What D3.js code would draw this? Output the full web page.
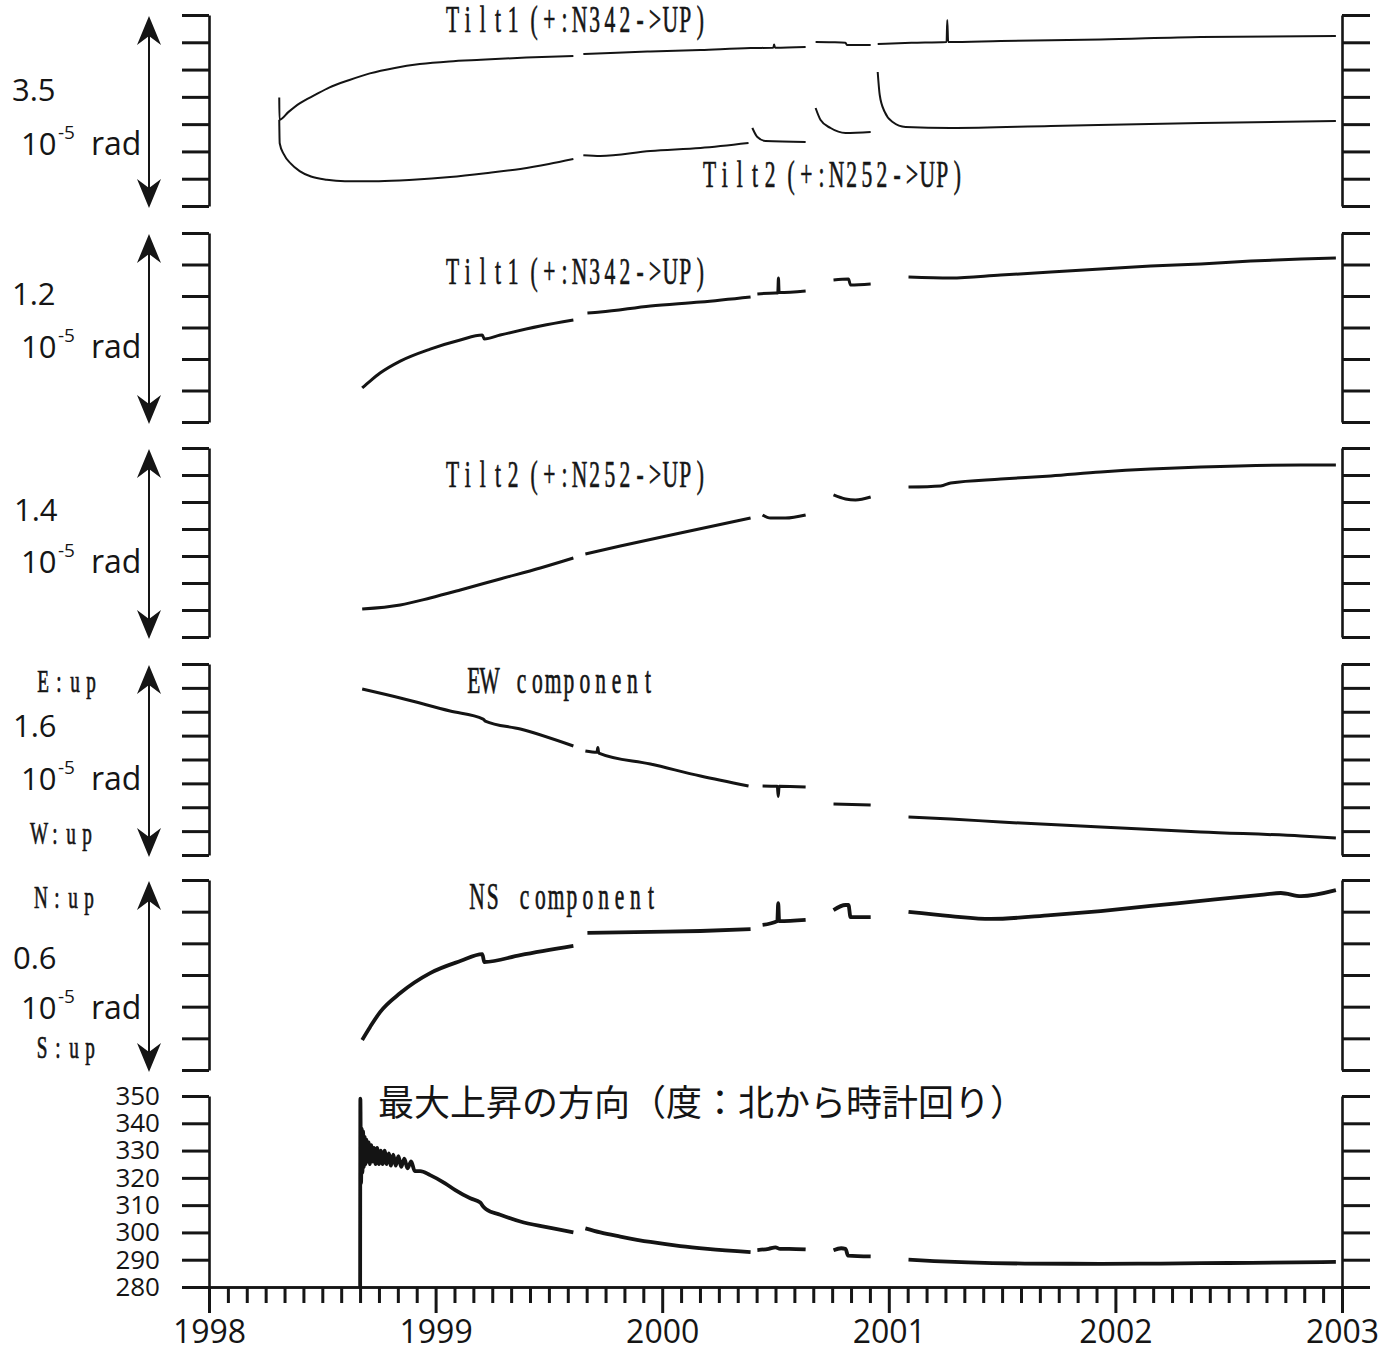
<!DOCTYPE html>
<html>
<head>
<meta charset="utf-8">
<script src="https://cdn.jsdelivr.net/npm/d3@7"></script>
<style>
  body { margin: 0; background: #fff; }
  svg { display: block; }
  .num { font-family: "Open Sans", "Noto Sans", sans-serif; fill: #151515; }
  .serif { font-family: "Liberation Serif", "DejaVu Serif", serif; fill: #151515; stroke: #151515; stroke-width: 0.7px; }
  .axis path, .axis line { stroke: #151515; }
</style>
</head>
<body>
<svg id="chart" width="1400" height="1351"></svg>
<script>
// Time is in decimal years; tilt values in 1e-5 rad (relative), direction in degrees.
// Each series is a list of recording segments separated by data gaps.

const tilt1Long = [
  [[1998.310,1.99],[1998.311,1.58],[1998.35,1.72],[1998.40,1.88],[1998.47,2.04],[1998.53,2.17],[1998.62,2.31],
   [1998.71,2.43],[1998.82,2.53],[1998.93,2.60],[1999.06,2.65],[1999.20,2.68],[1999.40,2.72],[1999.608,2.75]],
  [[1999.652,2.785],[1999.80,2.81],[1999.948,2.831],[2000.169,2.859],[2000.39,2.895],[2000.49,2.90],
   [2000.494,2.96],[2000.498,2.90],[2000.633,2.914]],
  [[2000.677,3.005],[2000.75,3.00],[2000.809,2.99],[2000.815,2.95],[2000.92,2.95]],
  [[2000.951,2.97],[2001.10,2.99],[2001.255,3.005],[2001.258,3.41],[2001.262,3.005],[2001.494,3.024],
   [2001.935,3.05],[2002.377,3.097],[2002.973,3.115]]
];

const tilt2Long = [
  [[1998.310,1.58],[1998.312,1.15],[1998.33,0.95],[1998.36,0.78],[1998.40,0.64],[1998.45,0.54],[1998.52,0.48],
   [1998.60,0.455],[1998.75,0.455],[1998.90,0.48],[1999.064,0.53],[1999.22,0.60],[1999.374,0.68],[1999.50,0.77],[1999.608,0.86]],
  [[1999.652,0.93],[1999.727,0.915],[1999.948,1.008],[2000.169,1.063],[2000.381,1.154]],
  [[2000.398,1.43],[2000.42,1.264],[2000.456,1.191],[2000.633,1.173]],
  [[2000.677,1.796],[2000.699,1.576],[2000.743,1.429],[2000.809,1.338],[2000.92,1.356]],
  [[2000.951,2.456],[2000.96,2.034],[2000.982,1.723],[2001.017,1.539],[2001.074,1.448],[2001.273,1.429],
   [2001.715,1.466],[2002.377,1.521],[2002.973,1.558]]
];

const tilt1 = [
  [[1998.676,0.216],[1998.711,0.26],[1998.755,0.311],[1998.844,0.387],[1998.976,0.463],[1999.109,0.521],
   [1999.206,0.552],[1999.215,0.527],[1999.285,0.552],[1999.462,0.61],[1999.608,0.648]],
  [[1999.67,0.692],[1999.727,0.698],[1999.948,0.737],[2000.169,0.762],[2000.39,0.794]],
  [[2000.42,0.813],[2000.5,0.819],[2000.51,0.819],[2000.513,0.914],[2000.516,0.822],[2000.633,0.832]],
  [[2000.756,0.902],[2000.822,0.908],[2000.831,0.87],[2000.92,0.876]],
  [[2001.087,0.921],[2001.273,0.914],[2001.494,0.933],[2001.715,0.952],[2001.935,0.971],[2002.156,0.99],
   [2002.377,1.003],[2002.598,1.022],[2002.819,1.035],[2002.973,1.041]]
];

const tilt2 = [
  [[1998.676,0.207],[1998.844,0.237],[1998.976,0.289],[1999.109,0.348],[1999.285,0.43],[1999.462,0.511],[1999.608,0.585]],
  [[1999.661,0.615],[1999.815,0.674],[2000.08,0.77],[2000.39,0.881]],
  [[2000.443,0.904],[2000.478,0.881],[2000.544,0.881],[2000.633,0.904]],
  [[2000.756,1.052],[2000.809,1.022],[2000.853,1.015],[2000.92,1.037]],
  [[2001.087,1.111],[2001.229,1.119],[2001.273,1.141],[2001.494,1.17],[2001.715,1.193],[2001.935,1.222],
   [2002.156,1.244],[2002.377,1.259],[2002.819,1.274],[2002.973,1.274]]
];

const ewComponent = [
  [[1998.676,1.39],[1998.844,1.315],[1999.064,1.206],[1999.21,1.139],[1999.219,1.122],[1999.374,1.055],[1999.608,0.913]],
  [[1999.661,0.871],[1999.712,0.86],[1999.716,0.90],[1999.72,0.854],[1999.948,0.762],[2000.169,0.662],[2000.381,0.578]],
  [[2000.443,0.578],[2000.508,0.575],[2000.512,0.49],[2000.516,0.575],[2000.633,0.57]],
  [[2000.756,0.427],[2000.92,0.419]],
  [[2001.087,0.318],[2001.273,0.302],[2001.494,0.276],[2001.935,0.235],[2002.377,0.193],[2002.819,0.159],[2002.973,0.142]]
];

const nsComponent = [
  [[1998.676,0.095],[1998.711,0.136],[1998.755,0.183],[1998.844,0.243],[1998.976,0.306],[1999.109,0.344],
   [1999.206,0.366],[1999.215,0.341],[1999.374,0.363],[1999.608,0.392]],
  [[1999.67,0.433],[1999.948,0.436],[2000.169,0.439],[2000.39,0.445]],
  [[2000.443,0.458],[2000.508,0.47],[2000.512,0.527],[2000.516,0.47],[2000.633,0.474]],
  [[2000.756,0.505],[2000.809,0.521],[2000.822,0.521],[2000.831,0.483],[2000.92,0.483]],
  [[2001.087,0.499],[2001.273,0.486],[2001.45,0.477],[2001.715,0.489],[2001.935,0.502],[2002.156,0.518],
   [2002.377,0.534],[2002.642,0.553],[2002.73,0.559],[2002.819,0.549],[2002.973,0.568]]
];

const directionDeg = [
  [[1998.667,280],[1998.668,349],[1998.671,318],[1998.674,338],[1998.677,322],[1998.680,337],[1998.683,324],
   [1998.687,335],[1998.691,325],[1998.695,334],[1998.700,326],[1998.705,333],[1998.710,325],[1998.716,332],
   [1998.722,326],[1998.728,331],[1998.735,325],[1998.742,331],[1998.750,325],[1998.758,330],[1998.766,325],
   [1998.775,330],[1998.784,325],[1998.793,329],[1998.803,324.5],[1998.813,328.5],[1998.824,324.5],
   [1998.836,328],[1998.848,324],[1998.862,327],[1998.876,323.5],[1998.892,326],[1998.908,322.5],
   [1998.932,322.5],[1998.976,321],[1999.042,318],[1999.087,315.5],[1999.153,312.5],[1999.197,311],
   [1999.21,309.5],[1999.223,308.5],[1999.285,306.5],[1999.374,304],[1999.484,302],[1999.608,300]],
  [[1999.661,301.5],[1999.727,300],[1999.815,298.5],[1999.948,296.5],[2000.08,295],[2000.2,294],[2000.39,292.8]],
  [[2000.42,293.5],[2000.47,294],[2000.5,294.5],[2000.52,294],[2000.56,294],[2000.633,293.8]],
  [[2000.756,293.5],[2000.79,294.2],[2000.809,294],[2000.82,291.5],[2000.92,291.2]],
  [[2001.087,290],[2001.2,289.5],[2001.35,289],[2001.6,288.6],[2001.935,288.5],[2002.2,288.6],[2002.5,288.8],
   [2002.8,289],[2002.973,289.2]]
];

// Axis / label texts
const yearTicks = [1998, 1999, 2000, 2001, 2002, 2003];
const directionTicks = [280, 290, 300, 310, 320, 330, 340, 350];
const rangeLabels = ["3.5", "1.2", "1.4", "1.6", "0.6"];
const panelTitles = ["Tilt1 (+:N342->UP)", "Tilt1 (+:N342->UP)", "Tilt2 (+:N252->UP)", "EW component", "NS component"];
const tilt2Title = "Tilt2 (+:N252->UP)";
const ewSides = ["E:up", "W:up"];
const nsSides = ["N:up", "S:up"];
const directionTitle = "最大上昇の方向（度：北から時計回り）";

const svg = d3.select("#chart");
const x = d3.scaleLinear().domain([1998, 2003]).range([209, 1342]);

const panels = [
  { top: 15,   bottom: 206,  domain: [0, 3.5], step: 0.5, series: [tilt1Long, tilt2Long], width: 2 },
  { top: 233,  bottom: 422,  domain: [0, 1.2], step: 0.2, series: [tilt1], width: 3 },
  { top: 448,  bottom: 637,  domain: [0, 1.4], step: 0.2, series: [tilt2], width: 3 },
  { top: 664,  bottom: 855,  domain: [0, 1.6], step: 0.2, series: [ewComponent], width: 3 },
  { top: 880,  bottom: 1070, domain: [0, 0.6], step: 0.1, series: [nsComponent], width: 3.8 },
  { top: 1096, bottom: 1287, domain: [280, 350], step: 10, series: [directionDeg], width: 3.8 }
];

function styleAxis(g) {
  g.attr("class", "axis");
  g.select(".domain").attr("stroke-width", 2.6);
  g.selectAll(".tick line").attr("stroke-width", 3);
}

panels.forEach((p, i) => {
  const y = d3.scaleLinear().domain(p.domain).range([p.bottom, p.top]);
  const n = Math.round((p.domain[1] - p.domain[0]) / p.step);
  const ticks = d3.range(n + 1).map(k => p.domain[0] + k * p.step);
  const last = i === panels.length - 1;

  svg.append("g")
    .attr("transform", `translate(${x(1998)},0)`)
    .call(d3.axisLeft(y).tickValues(last ? directionTicks : ticks).tickSize(27).tickSizeOuter(0)
      .tickPadding(22).tickFormat(last ? d3.format("d") : ""))
    .call(styleAxis)
    .call(g => g.selectAll("text").attr("class", "num").attr("font-size", 26).attr("fill", "#151515"));

  svg.append("g")
    .attr("transform", `translate(${x(2003)},0)`)
    .call(d3.axisRight(y).tickValues(ticks).tickSize(28).tickSizeOuter(0).tickFormat(""))
    .call(styleAxis);

  const line = d3.line().x(d => x(d[0])).y(d => y(d[1])).curve(d3.curveMonotoneX);
  p.series.forEach(s => {
    s.forEach(seg => {
      svg.append("path").attr("d", line(seg)).attr("fill", "none")
        .attr("stroke", "#141414").attr("stroke-width", p.width)
        .attr("stroke-linejoin", "round").attr("stroke-linecap", "butt");
    });
  });

  if (!last) {
    // double-headed arrow spanning the panel
    const ax = 149, t = p.top + 1, b = p.bottom + 2;
    svg.append("line").attr("x1", ax).attr("x2", ax).attr("y1", t + 10).attr("y2", b - 10)
      .attr("stroke", "#151515").attr("stroke-width", 2);
    svg.append("path").attr("fill", "#151515")
      .attr("d", `M${ax},${t} L${ax - 12},${t + 29} L${ax},${t + 20} L${ax + 12},${t + 29} Z`);
    svg.append("path").attr("fill", "#151515")
      .attr("d", `M${ax},${b} L${ax - 12},${b - 29} L${ax},${b - 20} L${ax + 12},${b - 29} Z`);
  }
});

// Bottom time axis: monthly minor ticks and yearly major ticks with labels
const months = d3.range(0, 61).map(k => 1998 + k / 12).filter((v, k) => k % 12 !== 0);
svg.append("g").attr("transform", "translate(0,1287)")
  .call(d3.axisBottom(x).tickValues(months).tickSize(16).tickSizeOuter(0).tickFormat(""))
  .call(styleAxis);
svg.append("g").attr("transform", "translate(0,1287)")
  .call(d3.axisBottom(x).tickValues(yearTicks).tickSize(26).tickSizeOuter(0).tickPadding(7).tickFormat(d3.format("d")))
  .call(styleAxis)
  .call(g => g.selectAll("text").attr("class", "num").attr("font-size", 32).attr("fill", "#151515"));

// Left-hand scale labels
const rangeY = [[101, 155], [305, 358], [521, 573], [737, 790], [969, 1019]];
const rangeX = [12, 12, 14, 13, 13];
rangeLabels.forEach((t, i) => {
  svg.append("text").attr("class", "num").attr("x", rangeX[i]).attr("y", rangeY[i][0])
    .attr("font-size", 31).text(t);
  svg.append("text").attr("class", "num").attr("x", 21).attr("y", rangeY[i][1])
    .attr("font-size", 31).text("10");
  svg.append("text").attr("class", "num").attr("x", 58).attr("y", rangeY[i][1] - 16)
    .attr("font-size", 19).text("-5");
  svg.append("text").attr("class", "num").attr("x", 91).attr("y", rangeY[i][1])
    .attr("font-size", 32).text("rad");
});

// Fixed-pitch, narrow serif labels: each character centred in its own cell;
// a space takes `gap` of a cell.
function pitchText(str, x0, baseline, width, size, squeeze, gap) {
  const chars = Array.from(str);
  const units = chars.reduce((s, c) => s + (c === " " ? gap : 1), 0);
  const cell = width / units;
  let pos = 0;
  const xs = chars.map(c => {
    const w = (c === " " ? gap : 1) * cell;
    const cx = pos + w / 2;
    pos += w;
    return (cx / squeeze).toFixed(2);
  });
  svg.append("g").attr("transform", `translate(${x0},${baseline}) scale(${squeeze},1)`)
    .append("text").attr("class", "serif").attr("font-size", size).attr("text-anchor", "middle")
    .attr("x", xs.join(" ")).attr("y", 0).text(str);
}

// Direction labels beside the EW / NS panels
[[ewSides[0], 35, 692, 64], [ewSides[1], 31, 844, 64],
 [nsSides[0], 33, 908, 64], [nsSides[1], 34, 1058, 64]]
  .forEach(([t, tx, ty, w]) => pitchText(t, tx, ty, w, 32, 0.6, 1));

// Panel titles
const titlePos = [[445, 32, 263], [445, 284, 263], [445, 487, 263], [466, 693, 190], [469, 909, 190]];
panelTitles.forEach((t, i) =>
  pitchText(t, titlePos[i][0], titlePos[i][1], titlePos[i][2], 37, 0.58, i < 3 ? 0.4 : 1));
pitchText(tilt2Title, 702, 187, 263, 37, 0.58, 0.4);

svg.append("text").attr("x", 378).attr("y", 1116)
  .attr("font-family", "'Noto Sans CJK JP', sans-serif").attr("font-size", 36).attr("fill", "#151515")
  .text(directionTitle);
</script>
</body>
</html>
